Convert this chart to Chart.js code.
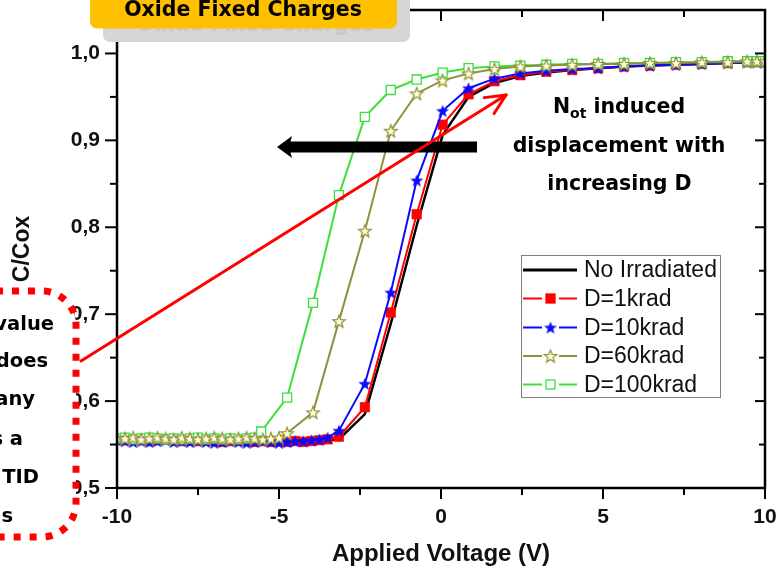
<!DOCTYPE html>
<html>
<head>
<meta charset="utf-8">
<script src="https://cdn.jsdelivr.net/npm/chart.js@4.4.1/dist/chart.umd.min.js"></script>
<style>
  html, body { margin: 0; padding: 0; background: #fff; overflow: hidden; }
  #wrap { position: relative; width: 776px; height: 571px; }
  canvas { display: block; }
</style>
</head>
<body>
<div id="wrap"><canvas id="cv" width="776" height="571"></canvas></div>
<script>
// Gate voltage sweep (V): finely sampled below threshold, then the 0.8 V grid
const lowV = [-10, -9.75, -9.5, -9.25, -9, -8.75, -8.5, -8.25, -8, -7.75, -7.5, -7.25, -7,
              -6.75, -6.5, -6.25, -6, -5.75, -5.5, -5.25, -5, -4.75, -4.5, -4.25, -4, -3.75, -3.5];
const gridV = [-5.55, -4.75, -3.95, -3.15, -2.35, -1.55, -0.75, 0.05, 0.85, 1.65, 2.45, 3.25,
               4.05, 4.85, 5.65, 6.45, 7.25, 8.05, 8.85, 9.45, 9.75, 10.0];

// Normalised capacitance C/Cox per dose
const c0Low   = [0.555, 0.556, 0.555, 0.554, 0.555, 0.556, 0.555, 0.554, 0.555, 0.554, 0.555, 0.554, 0.553,
                 0.554, 0.555, 0.554, 0.553, 0.554, 0.553, 0.554, 0.553, 0.554, 0.553, 0.554, 0.553, 0.554, 0.555];
const c0Grid  = [0.556, 0.585, 0.689, 0.802, 0.906, 0.950, 0.966, 0.974, 0.978, 0.981, 0.983, 0.985, 0.986,
                 0.987, 0.988, 0.989, 0.990, 0.990, 0.990];
const c1Low   = [0.556, 0.555, 0.556, 0.555, 0.554, 0.555, 0.556, 0.555, 0.554, 0.555, 0.554, 0.555, 0.554,
                 0.553, 0.554, 0.555, 0.554, 0.553, 0.554, 0.553, 0.554, 0.553, 0.554, 0.553, 0.554, 0.555, 0.556];
const c1Grid  = [0.559, 0.593, 0.702, 0.815, 0.918, 0.953, 0.968, 0.975, 0.979, 0.981, 0.983, 0.985, 0.986,
                 0.987, 0.988, 0.989, 0.990, 0.990, 0.990];
const c10Low  = [0.555, 0.554, 0.553, 0.554, 0.553, 0.554, 0.555, 0.553, 0.554, 0.553, 0.554, 0.553, 0.552,
                 0.553, 0.554, 0.553, 0.552, 0.553, 0.554, 0.553, 0.552, 0.553, 0.554, 0.554, 0.555, 0.556, 0.558];
const c10Grid = [0.566, 0.620, 0.725, 0.854, 0.934, 0.960, 0.971, 0.977, 0.980, 0.982, 0.983, 0.985, 0.986,
                 0.987, 0.988, 0.989, 0.990, 0.990, 0.990];
const c60Low  = [0.558, 0.557, 0.558, 0.556, 0.557, 0.558, 0.557, 0.556, 0.558, 0.557, 0.556, 0.557, 0.558,
                 0.557, 0.556, 0.557, 0.558, 0.557, 0.556, 0.557, 0.558];
const c60Grid = [0.563, 0.587, 0.692, 0.796, 0.911, 0.954, 0.969, 0.977, 0.982, 0.985, 0.986, 0.987, 0.988,
                 0.988, 0.989, 0.989, 0.990, 0.990, 0.991, 0.991, 0.991];
const c100Low = [0.557, 0.558, 0.556, 0.557, 0.558, 0.557, 0.556, 0.557, 0.556, 0.557, 0.558, 0.556, 0.557,
                 0.556, 0.557, 0.556, 0.557, 0.558];
const c100Grid = [0.565, 0.604, 0.713, 0.837, 0.927, 0.958, 0.970, 0.978, 0.983, 0.985, 0.986, 0.987, 0.988,
                  0.988, 0.989, 0.989, 0.990, 0.990, 0.991, 0.991, 0.991, 0.991];

const xTicks = [-10, -5, 0, 5, 10];
const xMinor = [-7.5, -2.5, 2.5, 7.5];
const yTicks = [0.5, 0.6, 0.7, 0.8, 0.9, 1.0];
const yMinor = [0.55, 0.65, 0.75, 0.85, 0.95];

const seriesNames = ['No Irradiated', 'D=1krad', 'D=10krad', 'D=60krad', 'D=100krad'];

function joinSweep(lowVals, gridVals) {
  const pts = lowVals.map((c, i) => ({ x: lowV[i], y: c }));
  const start = gridV.length - gridVals.length;
  gridVals.forEach((c, i) => pts.push({ x: gridV[start + i], y: c }));
  return pts;
}

function starCanvas(R, fill, stroke, lw) {
  const s = Math.ceil(2 * R + 2 * lw + 2);
  const c = document.createElement('canvas');
  c.width = c.height = s;
  const g = c.getContext('2d');
  const cx = s / 2, cy = s / 2 + R * 0.1;
  g.beginPath();
  for (let i = 0; i < 10; i++) {
    const r = i % 2 ? R * 0.42 : R;
    const a = -Math.PI / 2 + i * Math.PI / 5;
    g.lineTo(cx + r * Math.cos(a), cy + r * Math.sin(a));
  }
  g.closePath();
  g.fillStyle = fill; g.fill();
  if (stroke) { g.lineWidth = lw; g.strokeStyle = stroke; g.stroke(); }
  return c;
}

const BLACK = '#000000', RED = '#ff0000', BLUE = '#0a0aff', OLIVE = '#8f8f3c', GREEN = '#3ddf3d';
const blueStar = starCanvas(6.8, BLUE, null, 0);
const oliveStar = starCanvas(6.6, '#ffffd8', OLIVE, 1.2);

const datasets = [
  { label: seriesNames[0], data: joinSweep(c0Low, c0Grid), borderColor: BLACK, borderWidth: 2.5,
    pointRadius: 0, order: 5 },
  { label: seriesNames[1], data: joinSweep(c1Low, c1Grid), borderColor: RED, borderWidth: 2,
    pointStyle: 'rect', pointRadius: 6.8, backgroundColor: RED, pointBackgroundColor: RED,
    pointBorderColor: RED, pointBorderWidth: 0.5, order: 4 },
  { label: seriesNames[2], data: joinSweep(c10Low, c10Grid), borderColor: BLUE, borderWidth: 2,
    pointStyle: blueStar, pointRadius: 6, order: 3 },
  { label: seriesNames[3], data: joinSweep(c60Low, c60Grid), borderColor: OLIVE, borderWidth: 2,
    pointStyle: oliveStar, pointRadius: 6, order: 1 },
  { label: seriesNames[4], data: joinSweep(c100Low, c100Grid), borderColor: GREEN, borderWidth: 2,
    pointStyle: 'rect', pointRadius: 6.4, pointBackgroundColor: '#ffffff', backgroundColor: '#ffffff',
    pointBorderColor: GREEN, pointBorderWidth: 1.3, order: 2 }
];
datasets.forEach(d => { d.showLine = true; d.fill = false; d.tension = 0; });

function roundRectPath(ctx, x, y, w, h, r) {
  ctx.beginPath();
  ctx.moveTo(x + r, y);
  ctx.lineTo(x + w - r, y);
  ctx.arcTo(x + w, y, x + w, y + r, r);
  ctx.lineTo(x + w, y + h - r);
  ctx.arcTo(x + w, y + h, x + w - r, y + h, r);
  ctx.lineTo(x + r, y + h);
  ctx.arcTo(x, y + h, x, y + h - r, r);
  ctx.lineTo(x, y + r);
  ctx.arcTo(x, y, x + r, y, r);
  ctx.closePath();
}

const decor = {
  id: 'decor',
  afterDraw(chart) {
    const ctx = chart.ctx;
    const { left, right, top, bottom } = chart.chartArea;
    const xs = chart.scales.x, ys = chart.scales.y;
    ctx.save();

    // plot frame
    ctx.strokeStyle = '#000'; ctx.lineWidth = 2.5; ctx.lineCap = 'square';
    ctx.strokeRect(left, top, right - left, bottom - top);

    // ticks: outward on bottom/left, inward mirrors on top/right
    ctx.lineWidth = 2; ctx.lineCap = 'butt';
    const seg = (x1, y1, x2, y2) => { ctx.beginPath(); ctx.moveTo(x1, y1); ctx.lineTo(x2, y2); ctx.stroke(); };
    xTicks.forEach(v => { const x = xs.getPixelForValue(v); seg(x, bottom, x, bottom + 11); seg(x, top, x, top + 11); });
    xMinor.forEach(v => { const x = xs.getPixelForValue(v); seg(x, bottom, x, bottom + 7); seg(x, top, x, top + 7); });
    yTicks.forEach(v => { const y = ys.getPixelForValue(v); seg(left - 12, y, left, y); seg(right - 10, y, right, y); });
    yMinor.forEach(v => { const y = ys.getPixelForValue(v); seg(left - 7, y, left, y); seg(right - 6, y, right, y); });

    // legend
    ctx.fillStyle = '#fff'; ctx.fillRect(521, 255, 199, 142);
    ctx.strokeStyle = '#808080'; ctx.lineWidth = 1; ctx.strokeRect(521.5, 255.5, 199, 142);
    const rows = [270, 298.5, 327.5, 356, 384.5];
    ctx.font = '23px "Liberation Sans", Arial, sans-serif';
    ctx.textBaseline = 'middle'; ctx.textAlign = 'left';
    datasets.forEach((d, i) => {
      const y = rows[i];
      ctx.strokeStyle = d.borderColor;
      if (i === 0) {
        ctx.lineWidth = 3; seg(523, y, 577, y);
      } else {
        ctx.lineWidth = 2; seg(523, y, 542, y); seg(559, y, 577, y);
        if (d.pointStyle === 'rect') {
          ctx.fillStyle = d.pointBackgroundColor; ctx.fillRect(546, y - 4.5, 9, 9);
          ctx.strokeStyle = d.pointBorderColor; ctx.lineWidth = 1.3; ctx.strokeRect(546, y - 4.5, 9, 9);
        } else {
          ctx.drawImage(d.pointStyle, 550.5 - d.pointStyle.width / 2, y - d.pointStyle.height / 2);
        }
      }
      ctx.fillStyle = '#111';
      ctx.fillText(d.label, 584, y + 1);
    });

    // shift arrow (black)
    ctx.fillStyle = '#000';
    ctx.fillRect(289, 141.5, 188, 11);
    ctx.beginPath();
    ctx.moveTo(277, 147); ctx.lineTo(292, 136); ctx.lineTo(289, 147); ctx.lineTo(292, 158);
    ctx.closePath(); ctx.fill();

    // red pointer arrow
    ctx.strokeStyle = '#ff0000'; ctx.lineWidth = 3; ctx.lineCap = 'round';
    const tx = 506, ty = 95, fx = 81, fy = 361;
    seg(fx, fy, tx, ty);
    const back = Math.atan2(fy - ty, fx - tx);
    [-0.44, 0.44].forEach(da => {
      seg(tx, ty, tx + 22 * Math.cos(back + da), ty + 22 * Math.sin(back + da));
    });
    ctx.lineCap = 'butt';

    // annotation text
    const bold = sz => 'bold ' + sz + 'px "DejaVu Sans", Verdana, sans-serif';
    ctx.fillStyle = '#000'; ctx.textBaseline = 'alphabetic';
    ctx.font = bold(20.5);
    const wN = ctx.measureText('N').width, wRest = ctx.measureText(' induced').width;
    ctx.font = bold(14);
    const wSub = ctx.measureText('ot').width;
    let x0 = 619 - (wN + wSub + wRest) / 2;
    ctx.textAlign = 'left';
    ctx.font = bold(20.5); ctx.fillText('N', x0, 113);
    ctx.font = bold(14); ctx.fillText('ot', x0 + wN, 118);
    ctx.font = bold(20.5); ctx.fillText(' induced', x0 + wN + wSub, 113);
    ctx.textAlign = 'center';
    ctx.fillText('displacement with', 619, 151.5);
    ctx.fillText('increasing D', 619.5, 189.5);

    // dotted callout box on the left
    roundRectPath(ctx, -70, 291, 146, 246, 34);
    ctx.fillStyle = '#fff'; ctx.fill();
    ctx.setLineDash([7, 9]); ctx.strokeStyle = '#ff0000'; ctx.lineWidth = 7; ctx.stroke();
    ctx.setLineDash([]);
    ctx.fillStyle = '#000'; ctx.textAlign = 'right'; ctx.font = bold(19.5);
    [['value', 54, 330], ['does', 48, 367.3], ['any', 35, 405], ['s a', 23, 445], ['TID', 39, 483.3], ['s', 13, 521.7]]
      .forEach(([t, x, y]) => ctx.fillText(t, x, y));

    // title tag with drop shadow
    roundRectPath(ctx, 103, -10, 307, 52, 7);
    ctx.fillStyle = '#d6d6d6'; ctx.fill();
    ctx.textAlign = 'center'; ctx.font = bold(20.5);
    ctx.fillStyle = '#c8c8c8'; ctx.fillText('Oxide Fixed Charges', 256, 31);
    roundRectPath(ctx, 90, -10, 307, 38.5, 7);
    ctx.fillStyle = '#ffc000'; ctx.fill();
    ctx.fillStyle = '#000'; ctx.fillText('Oxide Fixed Charges', 243, 16);

    ctx.restore();
  }
};

const tickFont = { family: '"Liberation Sans", Arial, sans-serif', weight: 'bold', size: 21 };

new Chart(document.getElementById('cv'), {
  type: 'scatter',
  data: { datasets },
  plugins: [decor],
  options: {
    responsive: false,
    animation: false,
    events: [],
    layout: { padding: { left: 0, top: 10, right: 11, bottom: 0 } },
    plugins: { legend: { display: false }, tooltip: { enabled: false } },
    scales: {
      x: {
        type: 'linear', min: -10, max: 10,
        grid: { display: false, drawTicks: false }, border: { display: false },
        ticks: { font: tickFont, color: '#111', padding: 17, maxRotation: 0, autoSkip: false,
                 callback: v => String(v) },
        title: { display: true, text: 'Applied Voltage (V)', color: '#111',
                 font: { family: '"Liberation Sans", Arial, sans-serif', weight: 'bold', size: 24 },
                 padding: { top: 0, bottom: 2 } },
        afterBuildTicks: s => { s.ticks = xTicks.map(v => ({ value: v })); },
        afterFit: s => { s.height = 83; s.paddingLeft = 0; s.paddingRight = 0; }
      },
      y: {
        type: 'linear', min: 0.5, max: 1.05,
        grid: { display: false, drawTicks: false }, border: { display: false },
        ticks: { font: tickFont, color: '#111', padding: 17,
                 callback: v => v.toFixed(1).replace('.', ',') },
        title: { display: true, text: 'C/Cox', color: '#111',
                 font: { family: '"Liberation Sans", Arial, sans-serif', weight: 'bold', size: 23 },
                 padding: { top: 9, bottom: 0 } },
        afterBuildTicks: s => { s.ticks = yTicks.map(v => ({ value: v })); },
        afterFit: s => { s.width = 117; s.paddingTop = 0; s.paddingBottom = 0; }
      }
    }
  }
});
</script>
</body>
</html>
